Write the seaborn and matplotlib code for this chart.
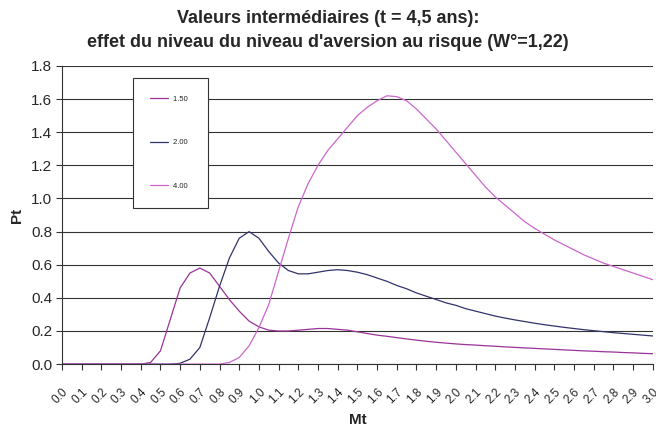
import matplotlib
matplotlib.use("Agg")
import matplotlib.pyplot as plt
import seaborn as sns
import pandas as pd
import numpy as np

# Mt grid (step 0.05) and Pt values for each risk aversion level
mt = [round(i * 0.05, 2) for i in range(61)]

pt_150 = [0, 0, 0, 0, 0, 0, 0, 0,
          0.0, 0.01, 0.08, 0.27, 0.46, 0.55, 0.58, 0.55, 0.47, 0.39, 0.32, 0.26,
          0.225, 0.205, 0.20, 0.20, 0.205, 0.21, 0.215, 0.215, 0.21, 0.205,
          0.195, 0.185, 0.175, 0.168, 0.16, 0.152, 0.145, 0.138, 0.132, 0.127,
          0.122, 0.118, 0.115, 0.111, 0.108, 0.104, 0.101, 0.098, 0.095, 0.092,
          0.089, 0.086, 0.083, 0.080, 0.078, 0.075, 0.073, 0.070, 0.068, 0.065,
          0.063]

pt_200 = [0, 0, 0, 0, 0, 0, 0, 0, 0, 0, 0, 0,
          0.005, 0.03, 0.10, 0.28, 0.47, 0.64, 0.76, 0.80,
          0.76, 0.68, 0.61, 0.565, 0.545, 0.545, 0.555, 0.565, 0.57, 0.565,
          0.555, 0.54, 0.52, 0.50, 0.475, 0.455, 0.43, 0.41, 0.39, 0.37,
          0.355, 0.335, 0.32, 0.305, 0.29, 0.278, 0.267, 0.257, 0.247, 0.238,
          0.23, 0.222, 0.215, 0.208, 0.202, 0.196, 0.19, 0.185, 0.18, 0.175,
          0.17]

pt_400 = [0, 0, 0, 0, 0, 0, 0, 0, 0, 0, 0, 0, 0, 0, 0, 0,
          0.0, 0.01, 0.04, 0.11,
          0.22, 0.36, 0.56, 0.76, 0.95, 1.09, 1.20, 1.29, 1.36, 1.43,
          1.50, 1.55, 1.59, 1.62, 1.615, 1.59, 1.54, 1.48, 1.42, 1.35,
          1.28, 1.21, 1.14, 1.07, 1.01, 0.96, 0.91, 0.86, 0.82, 0.785,
          0.75, 0.72, 0.69, 0.66, 0.635, 0.61, 0.59, 0.57, 0.55, 0.53,
          0.51]

levels = ["1.50", "2.00", "4.00"]
colors = ["#993399", "#33336b", "#cc66cc"]
x_ticks = [round(i * 0.1, 1) for i in range(31)]
y_ticks = [round(i * 0.2, 1) for i in range(10)]

df = pd.concat([
    pd.DataFrame({"Mt": mt, "Pt": vals, "niveau": lvl})
    for lvl, vals in zip(levels, [pt_150, pt_200, pt_400])
])

sns.set_style("white")
plt.rcParams["font.family"] = ["Liberation Sans", "DejaVu Sans"]

fig = plt.figure(figsize=(6.56, 4.34), dpi=100)
ax = fig.add_axes([0.0945, 0.161, 0.9005, 0.687])

sns.lineplot(data=df, x="Mt", y="Pt", hue="niveau", palette=colors,
             linewidth=0.9, ax=ax, legend=True)

ax.set_xlim(0, 3.0)
ax.set_ylim(0, 1.8)
ax.set_xticks(x_ticks)
ax.set_xticklabels([f"{v:.1f}" for v in x_ticks], rotation=45, ha="right",
                   rotation_mode="anchor", fontsize=8.5)
ax.set_yticks(y_ticks)
ax.set_yticklabels([f"{v:.1f}" for v in y_ticks], fontsize=11)
ax.tick_params(axis="x", pad=12)
ax.tick_params(axis="y", pad=3)
ax.tick_params(axis="both", direction="out", length=4, width=0.8,
               color="#333333", bottom=True, left=True)
ax.yaxis.grid(True, color="#333333", linewidth=0.8)
ax.set_axisbelow(True)
for s in ["top", "right"]:
    ax.spines[s].set_visible(False)
for s in ["left", "bottom"]:
    ax.spines[s].set_color("#333333")
    ax.spines[s].set_linewidth(0.8)

ax.set_xlabel("Mt", fontsize=11, fontweight="bold", labelpad=5)
ax.set_ylabel("Pt", fontsize=11, fontweight="bold", labelpad=5)

fig.suptitle("Valeurs intermédiaires (t = 4,5 ans):\n"
             "effet du niveau du niveau d'aversion au risque (W°=1,22)",
             fontsize=13, fontweight="bold", y=0.978, linespacing=1.55)

handles, labels = ax.get_legend_handles_labels()
leg = ax.legend(handles, [l + " " for l in labels], loc="upper left",
                bbox_to_anchor=(0.12, 0.96), fontsize=5.5, frameon=True,
                fancybox=False, edgecolor="#333333", framealpha=1,
                borderpad=2.3, labelspacing=4.75, handlelength=2.3,
                handletextpad=0.7, borderaxespad=0)
leg.get_frame().set_linewidth(0.8)

fig.savefig("out.png", dpi=100)
